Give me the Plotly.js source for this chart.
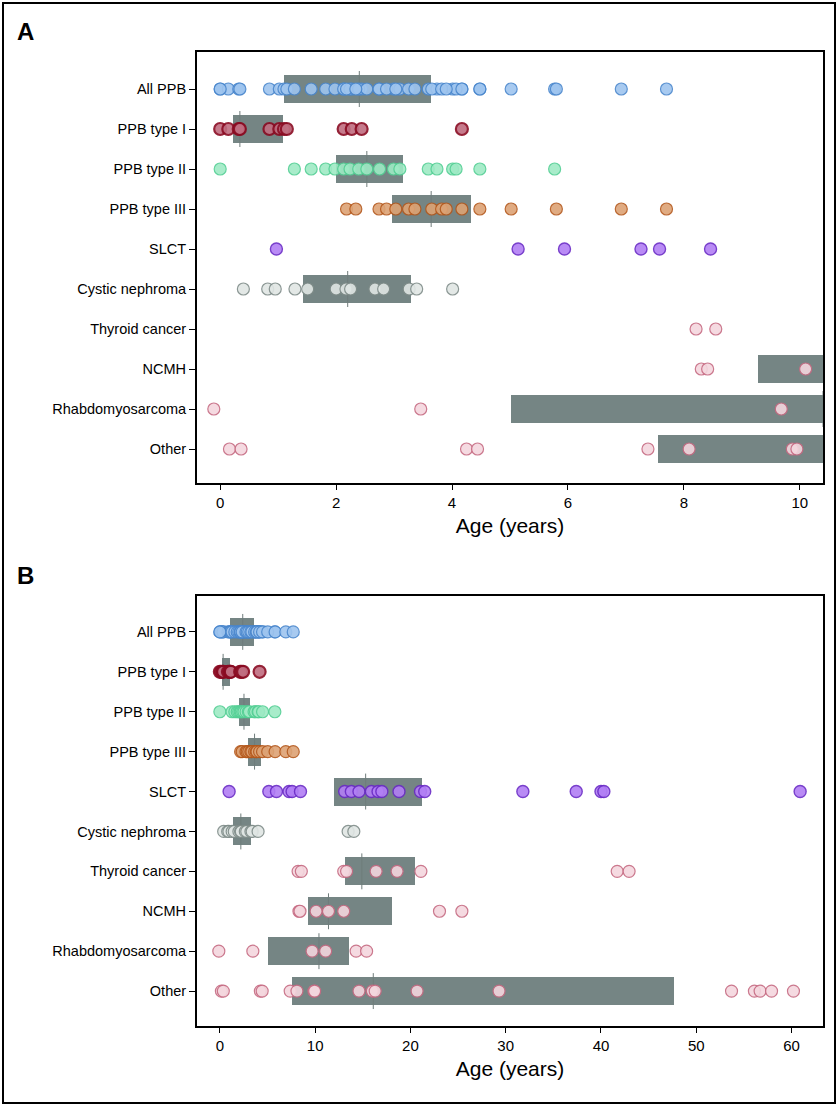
<!DOCTYPE html>
<html>
<head>
<meta charset="utf-8">
<script src="https://cdn.plot.ly/plotly-3.0.1.min.js"></script>
<style>html,body{margin:0;padding:0;background:#fff;}#chart{width:839px;height:1105px;}</style>
</head>
<body>
<div id="chart"></div>
<script>
// ---------- data (ages in years) ----------
const categories = ['All PPB','PPB type I','PPB type II','PPB type III','SLCT','Cystic nephroma','Thyroid cancer','NCMH','Rhabdomyosarcoma','Other'];

const agesPPB1 = [0.0, 0.14, 0.32, 0.34, 0.85, 1.02, 1.10, 1.15, 2.13, 2.27, 2.44, 4.17];
const agesPPB2 = [0.0, 1.28, 1.57, 1.82, 1.98, 2.13, 2.24, 2.39, 2.53, 2.75, 2.99, 3.10, 3.59, 3.74, 4.01, 4.07, 4.48, 5.77];
const agesPPB3 = [2.18, 2.34, 2.74, 2.87, 3.03, 3.25, 3.36, 3.65, 3.82, 3.90, 4.17, 4.48, 5.02, 5.80, 6.92, 7.70];
const agesAllPPB = [0.0, 0.14, 0.32, 0.34, 0.85, 1.02, 1.10, 1.15, 2.13, 2.27, 2.44, 4.17,
                    0.0, 1.28, 1.57, 1.82, 1.98, 2.13, 2.24, 2.39, 2.53, 2.75, 2.99, 3.10, 3.59, 3.74, 4.01, 4.07, 4.48, 5.77,
                    2.18, 2.34, 2.74, 2.87, 3.03, 3.25, 3.36, 3.65, 3.82, 3.90, 4.17, 4.48, 5.02, 5.80, 6.92, 7.70];
const agesSLCT = [0.97, 5.14, 5.94, 7.26, 7.58, 8.46, 13.1, 13.8, 14.6, 15.9, 16.6, 17.0, 18.8, 21.06, 21.5, 31.8, 37.4, 40.0, 40.3, 60.9];
const agesCN = [0.40, 0.82, 0.95, 1.29, 1.51, 2.0, 2.17, 2.25, 2.67, 2.82, 3.26, 3.39, 4.01, 13.46, 14.06];
const agesThyroid = [8.21, 8.55, 13.0, 13.3, 16.4, 18.6, 21.1, 41.7, 42.95];
const agesNCMH = [8.30, 8.41, 10.10, 11.4, 13.0, 23.05, 25.4];
const agesRMS = [-0.11, 3.46, 9.68, 11.1, 14.3, 15.4];
const agesOther = [0.16, 0.36, 4.25, 4.44, 7.38, 8.09, 9.87, 9.95, 14.6, 16.0, 16.3, 20.7, 29.3, 53.7, 56.1, 56.7, 57.9, 60.2];

const ageLists = [agesAllPPB, agesPPB1, agesPPB2, agesPPB3, agesSLCT, agesCN, agesThyroid, agesNCMH, agesRMS, agesOther];

// box summaries (interquartile range and median)
const q1Values     = [1.10, 0.22, 2.00, 2.97, 12.0, 1.43, 13.1, 9.27, 5.02, 7.56];
const medianValues = [2.40, 0.34, 2.53, 3.64, 15.3, 2.20, 14.9, 11.4, 10.4, 16.1];
const q3Values     = [3.63, 1.09, 3.16, 4.32, 21.2, 3.29, 20.5, 18.05, 13.6, 47.7];

const ticksA = [0, 2, 4, 6, 8, 10];
const ticksB = [0, 10, 20, 30, 40, 50, 60];

// ---------- styles ----------
const fillColors = ['#9fc5ef','#c06d80','#9feac5','#dda375','#b27ff5','#e0e6e4','#f4d7de','#f4d7de','#f4d7de','#f4d7de'];
const edgeColors = ['#4a87cd','#8a0b22','#53cf94','#b4581c','#6a2bc6','#7f8c89','#c66a82','#c66a82','#c66a82','#c66a82'];
const edgeWidths = [1.2, 2.2, 1.2, 1.2, 1.4, 1.2, 1.2, 1.2, 1.2, 1.2];
const boxColor = '#758584';
const FONT = 'Liberation Sans, Arial, sans-serif';
const W = 839, H = 1105;

const idx = categories.map((c, i) => i);
const traces = [];

function addPanel(xa, ya) {
  // IQR boxes
  traces.push({
    type: 'bar', orientation: 'h', xaxis: xa, yaxis: ya,
    y: idx, base: q1Values, x: q3Values.map((v, i) => v - q1Values[i]),
    width: 0.7, marker: {color: boxColor, line: {width: 0}},
    hoverinfo: 'skip', showlegend: false
  });
  // median lines
  const mx = [], my = [];
  idx.forEach(i => { mx.push(medianValues[i], medianValues[i], null); my.push(i - 0.45, i + 0.45, null); });
  traces.push({
    type: 'scatter', mode: 'lines', xaxis: xa, yaxis: ya, x: mx, y: my,
    line: {color: '#6f7c7b', width: 1}, hoverinfo: 'skip', showlegend: false
  });
  // points
  idx.forEach(i => {
    traces.push({
      type: 'scatter', mode: 'markers', xaxis: xa, yaxis: ya,
      x: ageLists[i], y: ageLists[i].map(() => i), name: categories[i],
      marker: {size: 12, color: fillColors[i], opacity: 0.9, line: {color: edgeColors[i], width: edgeWidths[i]}},
      showlegend: false
    });
  });
}
addPanel('x', 'y');
addPanel('x2', 'y2');

const px = v => v / W;
const py = v => 1 - v / H;

const commonX = {
  ticks: 'outside', ticklen: 5, tickwidth: 1, tickcolor: '#000',
  showline: true, linewidth: 2, linecolor: '#000', mirror: true,
  showgrid: false, zeroline: false,
  tickfont: {family: FONT, size: 15, color: '#000'},
  title: {text: 'Age (years)', font: {family: FONT, size: 21, color: '#000'}, standoff: 8}
};
const commonY = {
  ticks: 'outside', ticklen: 6, tickwidth: 1, tickcolor: '#000',
  showline: true, linewidth: 2, linecolor: '#000', mirror: true,
  showgrid: false, zeroline: false,
  tickvals: idx, ticktext: categories,
  tickfont: {family: FONT, size: 14.5, color: '#000'}
};

const layout = {
  width: W, height: H,
  margin: {l: 0, r: 0, t: 0, b: 0},
  paper_bgcolor: '#fff', plot_bgcolor: '#fff',
  showlegend: false,
  bargap: 0,
  xaxis: Object.assign({}, commonX, {domain: [px(197), px(823)], anchor: 'y', range: [-0.4, 10.4], tickvals: ticksA}),
  yaxis: Object.assign({}, commonY, {domain: [py(483), py(52)], anchor: 'x', range: [9.85, -0.925]}),
  xaxis2: Object.assign({}, commonX, {domain: [px(197), px(823)], anchor: 'y2', range: [-2.4, 63.3], tickvals: ticksB}),
  yaxis2: Object.assign({}, commonY, {domain: [py(1026), py(596)], anchor: 'x2', range: [9.875, -0.9]}),
  annotations: [
    {text: '<b>A</b>', xref: 'paper', yref: 'paper', x: px(25), y: py(31), xanchor: 'center', yanchor: 'middle', showarrow: false, font: {family: FONT, size: 24, color: '#000'}},
    {text: '<b>B</b>', xref: 'paper', yref: 'paper', x: px(25), y: py(575), xanchor: 'center', yanchor: 'middle', showarrow: false, font: {family: FONT, size: 24, color: '#000'}}
  ],
  shapes: [
    {type: 'rect', xref: 'paper', yref: 'paper', x0: px(3), x1: px(835), y0: py(1103), y1: py(3), line: {color: '#000', width: 2}, fillcolor: 'rgba(0,0,0,0)'}
  ]
};

Plotly.newPlot('chart', traces, layout, {displayModeBar: false, staticPlot: true});
</script>
</body>
</html>
